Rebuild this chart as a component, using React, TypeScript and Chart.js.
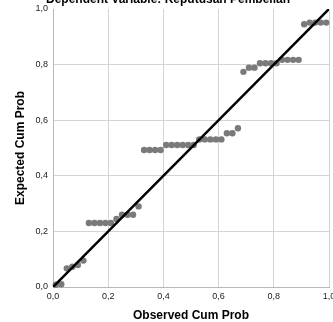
import React, { useEffect, useRef } from "react";
import { Chart, registerables } from "chart.js";

Chart.register(...registerables);

const titleText = "Dependent Variable: Keputusan Pembelian";
const xTitle = "Observed Cum Prob";
const yTitle = "Expected Cum Prob";

const observedCumProb = [
  0.01, 0.03, 0.05, 0.07, 0.09, 0.11, 0.13, 0.15, 0.17, 0.19,
  0.21, 0.23, 0.25, 0.27, 0.29, 0.31, 0.33, 0.35, 0.37, 0.39,
  0.41, 0.43, 0.45, 0.47, 0.49, 0.51, 0.53, 0.55, 0.57, 0.59,
  0.61, 0.63, 0.65, 0.67, 0.69, 0.71, 0.73, 0.75, 0.77, 0.79,
  0.81, 0.83, 0.85, 0.87, 0.89, 0.91, 0.93, 0.95, 0.97, 0.99,
];
const expectedCumProb = [
  0.008, 0.01, 0.067, 0.073, 0.079, 0.095, 0.23, 0.23, 0.23, 0.23,
  0.23, 0.245, 0.26, 0.26, 0.26, 0.29, 0.493, 0.493, 0.493, 0.493,
  0.511, 0.511, 0.511, 0.511, 0.511, 0.511, 0.531, 0.531, 0.531, 0.531,
  0.531, 0.553, 0.553, 0.571, 0.774, 0.789, 0.789, 0.805, 0.805, 0.805,
  0.805, 0.817, 0.817, 0.817, 0.817, 0.945, 0.951, 0.951, 0.951, 0.951,
];
const diagonal = [0, 1];

const fmt = (v: number) => Number(v).toFixed(1).replace(".", ",");

export default function App() {
  const ref = useRef<HTMLCanvasElement | null>(null);
  useEffect(() => {
    if (!ref.current) return;
    const textPlugin = {
      id: "texts",
      afterDraw(chart: any) {
        const ctx = chart.ctx;
        const area = chart.chartArea;
        ctx.save();
        ctx.fillStyle = "#000";
        ctx.textAlign = "center";
        ctx.font = "bold 12px 'Liberation Sans', Arial, sans-serif";
        ctx.textBaseline = "alphabetic";
        ctx.fillText(titleText, 168, 3);
        ctx.textBaseline = "middle";
        ctx.fillText(xTitle, (area.left + area.right) / 2, 316);
        ctx.translate(21, (area.top + area.bottom) / 2);
        ctx.rotate(-Math.PI / 2);
        ctx.fillText(yTitle, 0, 0);
        ctx.restore();
      },
    };
    const chart = new Chart(ref.current, {
      type: "scatter",
      data: {
        datasets: [
          {
            type: "line",
            data: diagonal.map((v) => ({ x: v, y: v })),
            borderColor: "#000",
            borderWidth: 2.5,
            pointRadius: 0,
            fill: false,
            order: 0,
          } as any,
          {
            data: observedCumProb.map((x, i) => ({ x, y: expectedCumProb[i] })),
            backgroundColor: "#7a7a7a",
            borderColor: "#7a7a7a",
            borderWidth: 0,
            pointRadius: 3.2,
            order: 1,
            clip: false,
          } as any,
        ],
      },
      options: {
        animation: false,
        responsive: false,
        layout: { padding: { top: 9, right: 3, left: 0, bottom: 0 } },
        plugins: { legend: { display: false }, tooltip: { enabled: false }, title: { display: false } },
        scales: {
          x: {
            type: "linear",
            min: 0,
            max: 1,
            grid: { color: "#d4d4d4", drawTicks: false, lineWidth: 1 },
            border: { color: "#b8b8b8" },
            ticks: {
              stepSize: 0.2,
              padding: 4,
              color: "#222",
              font: { size: 9, family: "'Liberation Sans', Arial, sans-serif" },
              callback: (v: any) => fmt(v),
              maxRotation: 0,
              autoSkip: false,
            },
            afterFit: (s: any) => {
              s.height = 35;
              s.paddingLeft = 0;
              s.paddingRight = 0;
            },
          },
          y: {
            type: "linear",
            min: 0,
            max: 1,
            grid: {
              color: (c: any) => (c.tick && c.tick.value >= 1 ? "rgba(0,0,0,0)" : "#d4d4d4"),
              drawTicks: false,
              lineWidth: 1,
            },
            border: { color: "#b8b8b8" },
            ticks: {
              stepSize: 0.2,
              padding: 5,
              color: "#222",
              font: { size: 9, family: "'Liberation Sans', Arial, sans-serif" },
              callback: (v: any) => fmt(v),
              autoSkip: false,
            },
            afterFit: (s: any) => {
              s.width = 53;
              s.paddingTop = 0;
              s.paddingBottom = 0;
            },
          },
        },
      },
      plugins: [textPlugin],
    } as any);
    return () => chart.destroy();
  }, []);
  return (
    <canvas
      ref={ref}
      width={333}
      height={322}
      style={{ position: "fixed", left: 0, top: 0, width: 333, height: 322, background: "#fff" }}
    />
  );
}
